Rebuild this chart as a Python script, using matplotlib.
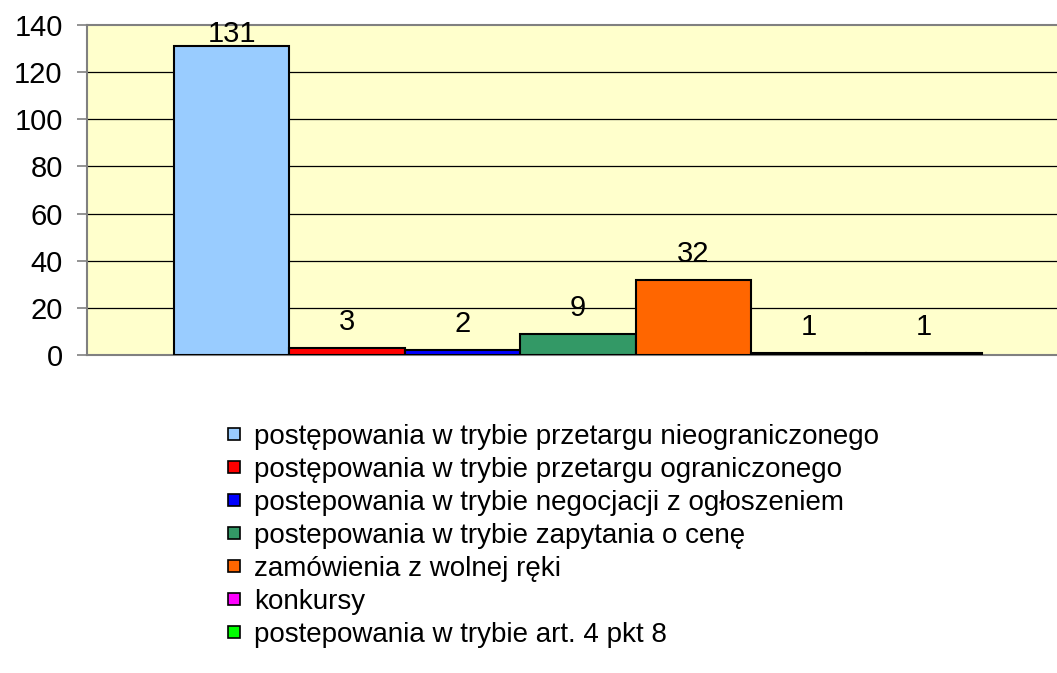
import matplotlib.pyplot as plt
from matplotlib.lines import Line2D

plt.rcParams['font.family'] = ['Liberation Sans', 'DejaVu Sans']

series = [
    'postępowania w trybie przetargu nieograniczonego',
    'postępowania w trybie przetargu ograniczonego',
    'postepowania w trybie negocjacji z ogłoszeniem',
    'postepowania w trybie zapytania o cenę',
    'zamówienia z wolnej ręki',
    'konkursy',
    'postepowania w trybie art. 4 pkt 8',
]
values = [131, 3, 2, 9, 32, 1, 1]
colors = ['#99CCFF', '#FF0000', '#0000FF', '#339966', '#FF6600', '#FF00FF', '#00FF00']
yticks = [0, 20, 40, 60, 80, 100, 120, 140]

fig = plt.figure(figsize=(10.57, 6.73), dpi=100)
ax = fig.add_axes([87 / 1057, 1 - 355 / 673, 970 / 1057, 330 / 673])
ax.set_facecolor('#FFFFCC')

for i, (v, c) in enumerate(zip(values, colors)):
    ax.bar(i, v, width=1.0, color=c, edgecolor='black', linewidth=1.5, zorder=3)
    ly = min(v + 7.6, 132.6)
    ax.text(i, ly, str(v), ha='center', va='baseline', fontsize=21, zorder=4)

ax.set_xlim(-1.254, 7.152)
ax.set_ylim(0, 140)
ax.set_yticks(yticks)
ax.set_xticks([])
ax.tick_params(axis='y', labelsize=21, length=7.5, width=1.2, color='#808080', pad=10)
for y in yticks[1:-1]:
    ax.axhline(y, color='black', linewidth=0.9, zorder=1)

for side in ['left', 'bottom', 'top']:
    ax.spines[side].set_color('#808080')
    ax.spines[side].set_linewidth(1.5)
ax.spines['right'].set_visible(False)

handles = [Line2D([], [], linestyle='none', marker='s', markersize=9,
                  markerfacecolor=c, markeredgecolor='black', markeredgewidth=1.2)
           for c in colors]
fig.legend(handles, series, loc='upper left', bbox_to_anchor=(226 / 1057, 1 - 424 / 673),
           frameon=False, fontsize=20, handlelength=0.6, handletextpad=0.4,
           labelspacing=0.25, borderpad=0, borderaxespad=0)

fig.savefig('out.png', dpi=100)
